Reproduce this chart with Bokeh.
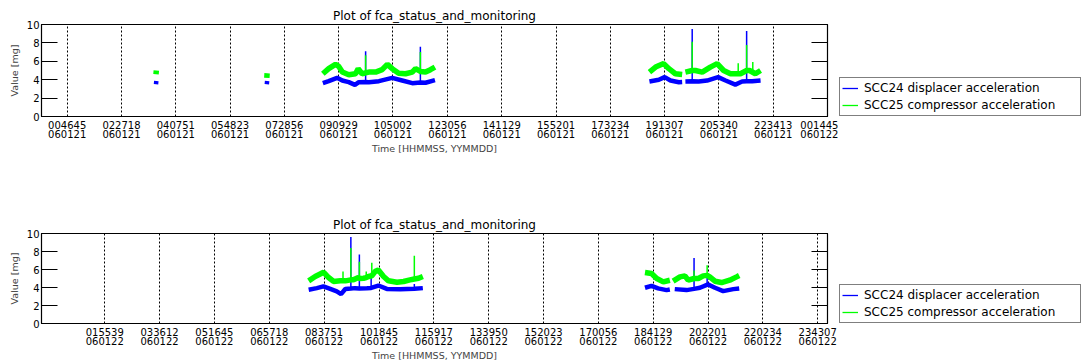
import numpy as np
from bokeh.plotting import figure
from bokeh.models import Range1d, FixedTicker, LinearAxis, Legend, LegendItem
from bokeh.layouts import column, row
from bokeh.embed import file_html
from bokeh.resources import INLINE

NaN = float("nan")

TITLE = "Plot of fca_status_and_monitoring"
X_LABEL = "Time [HHMMSS, YYMMDD]"
Y_LABEL = "Value [mg]"
SERIES = ["SCC24 displacer acceleration", "SCC25 compressor acceleration"]
BLUE = "#0000ff"
GREEN = "#00ff00"
FONT = "DejaVu Sans"

y_ticks = [0, 2, 4, 6, 8, 10]

# ---- top panel (hours since 00:00 of 060121) ----
top_tick_times = ["004645", "022718", "040751", "054823", "072856", "090929", "105002",
                  "123056", "141129", "155201", "173234", "191307", "205340", "223413", "001445"]
top_tick_dates = ["060121"] * 14 + ["060122"]

top_scc24_hours = [3.52, 3.53, NaN, 6.94, 6.95, NaN,
                   8.67, 8.85, 9.11, 9.27, 9.47, 9.66, 9.78, 9.99, 10.09, 10.40, 10.81, 11.12, 11.43, 11.68, 11.84, 12.13, NaN,
                   18.75, 19.04, 19.22, 19.40, 19.66, 19.76, NaN,
                   19.86, 20.07, 20.27, 20.53, 20.87, 21.10, 21.40, 21.61, 21.75, 21.92, 22.18]
top_scc24 = [3.5, 3.85, NaN, 3.5, 3.85, NaN,
             3.62, 3.84, 4.2, 3.91, 3.73, 3.44, 3.73, 3.75, 3.73, 3.84, 4.2, 3.91, 3.62, 3.7, 3.67, 3.95, NaN,
             3.8, 3.99, 4.28, 3.91, 3.73, 3.75, NaN,
             3.8, 3.82, 3.8, 3.91, 4.28, 3.91, 3.47, 3.8, 3.82, 3.84, 3.91]
top_scc24_spike_hours = [9.99, 11.68, 20.07, 21.75]
top_scc24_spike_base = [3.75, 3.7, 3.82, 3.82]
top_scc24_spike_peak = [7.1, 7.57, 9.52, 9.3]

top_scc25_hours = [3.52, 3.53, NaN, 6.94, 6.95, NaN,
                   8.67, 8.85, 9.06, 9.16, 9.27, 9.47, 9.68, 9.76, 9.88, 9.99, 10.09, 10.30, 10.50, 10.66, 10.81,
                   11.01, 11.22, 11.43, 11.53, 11.68, 11.84, 11.99, 12.13, NaN,
                   18.75, 18.94, 19.19, 19.35, 19.55, 19.76, NaN,
                   19.86, 20.07, 20.17, 20.38, 20.63, 20.84, 21.04, 21.25, 21.40, 21.56, 21.75, 21.84, 22.02, 22.18]
top_scc25 = [4.6, 5.0, NaN, 4.2, 4.7, NaN,
             4.65, 5.2, 5.67, 5.45, 4.83, 4.54, 4.65, 5.2, 4.65, 4.75, 4.83, 4.83, 5.09, 5.67, 5.2,
             4.71, 4.65, 4.83, 5.2, 4.9, 4.83, 5.09, 5.37, NaN,
             4.83, 5.37, 5.75, 5.2, 4.65, 4.57, NaN,
             4.83, 5.0, 5.0, 4.83, 5.37, 5.75, 5.0, 4.65, 4.65, 4.65, 5.0, 5.0, 4.65, 5.0]
top_scc25_spike_hours = [9.99, 11.68, 20.07, 21.75, 21.49, 21.94]
top_scc25_spike_base = [4.75, 4.9, 5.0, 5.0, 4.65, 4.8]
top_scc25_spike_peak = [6.66, 7.0, 8.12, 7.76, 5.8, 5.92]

# ---- bottom panel (hours since 00:00 of 060122) ----
bot_tick_times = ["015539", "033612", "051645", "065718", "083751", "101845", "115917",
                  "133950", "152023", "170056", "184129", "202201", "220234", "234307"]
bot_tick_dates = ["060122"] * 14

bot_scc24_hours = [8.16, 8.41, 8.61, 8.82, 9.02, 9.15, 9.28, 9.45, 9.58, 9.71, 9.94, 10.07, 10.29, 10.55, 10.96, 11.39, 11.65, NaN,
                   18.44, 18.64, 18.84, 19.10, 19.20, NaN,
                   19.35, 19.71, 19.94, 20.12, 20.37, 20.58, 20.83, 21.14, 21.32]
bot_scc24 = [3.75, 3.93, 4.12, 3.84, 3.57, 3.27, 3.84, 3.88, 3.93, 3.9, 3.93, 3.95, 4.22, 3.84, 3.8, 3.85, 3.93, NaN,
             3.97, 4.19, 3.9, 3.71, 3.78, NaN,
             3.82, 3.71, 3.85, 3.97, 4.34, 3.97, 3.6, 3.82, 3.9]
bot_scc24_spike_hours = [9.45, 9.71, 10.07, 11.39, 19.94, 20.34]
bot_scc24_spike_base = [3.88, 3.9, 3.95, 3.85, 3.85, 4.2]
bot_scc24_spike_peak = [9.6, 7.67, 5.2, 4.4, 7.27, 5.2]

bot_scc25_hours = [8.16, 8.36, 8.62, 8.77, 8.92, 9.13, 9.21, 9.28, 9.45, 9.53, 9.68, 9.71, 9.84, 9.92, 9.99, 10.09,
                   10.19, 10.29, 10.45, 10.60, 10.86, 11.06, 11.26, 11.39, 11.52, 11.65, NaN,
                   18.44, 18.64, 18.80, 19.00, 19.20, NaN,
                   19.30, 19.51, 19.66, 19.76, 19.94, 20.07, 20.22, 20.34, 20.42, 20.58, 20.78, 21.03, 21.24, 21.32]
bot_scc25 = [4.74, 5.22, 5.69, 5.11, 4.67, 4.74, 4.74, 4.74, 4.85, 4.85, 5.11, 5.0, 5.03, 5.1, 5.22, 5.3,
             5.77, 5.95, 5.22, 4.74, 4.59, 4.67, 4.85, 4.95, 5.03, 5.22, NaN,
             5.66, 5.55, 5.0, 4.63, 4.81, NaN,
             4.7, 5.18, 5.29, 4.81, 5.0, 5.0, 5.29, 5.35, 5.18, 4.7, 4.55, 4.81, 5.18, 5.33]
bot_scc25_spike_hours = [9.21, 9.45, 9.71, 9.92, 10.09, 11.39, 19.94, 20.34]
bot_scc25_spike_base = [4.74, 4.85, 5.0, 5.1, 5.3, 4.95, 5.0, 5.35]
bot_scc25_spike_peak = [5.77, 8.4, 6.87, 5.77, 6.76, 7.53, 5.9, 6.46]

PAGE_W = 1081
MAIN_W = 838
LEG_W = PAGE_W - MAIN_W
BORDER_L = 41
BORDER_R = 11


def tick_hours(times, dates):
    out = []
    first_date = dates[0]
    for t, d in zip(times, dates):
        h = int(t[:2]) + int(t[2:4]) / 60.0 + int(t[4:]) / 3600.0
        if d != first_date:
            h += 24.0
        out.append(round(h, 6))
    return out


def make_panel(height, x_start, x_end, border_top, border_bottom, times, dates,
               b_x, b_y, b_sx, b_sb, b_sp, g_x, g_y, g_sx, g_sb, g_sp):
    p = figure(width=MAIN_W, height=height, x_range=Range1d(x_start, x_end), y_range=Range1d(0, 10),
               output_backend="svg", toolbar_location=None,
               min_border_left=BORDER_L, min_border_right=BORDER_R,
               min_border_top=border_top, min_border_bottom=border_bottom)
    p.background_fill_color = "white"
    p.border_fill_color = "white"
    p.outline_line_color = "black"
    p.outline_line_width = 1.2

    p.title.text = TITLE
    p.title.align = "center"
    p.title.text_font = FONT
    p.title.text_font_size = "12px"
    p.title.text_font_style = "normal"
    p.title.text_color = "black"
    p.title.standoff = 4

    ticks = tick_hours(times, dates)
    xt = FixedTicker(ticks=ticks)
    xa = p.xaxis[0]
    xa.ticker = xt
    xa.major_label_overrides = {tk: f"{t}\n{d}" for tk, t, d in zip(ticks, times, dates)}
    xa.major_tick_in = 0
    xa.major_tick_out = 0
    xa.minor_tick_in = 0
    xa.minor_tick_out = 0
    xa.major_label_standoff = 3
    xa.major_label_text_font = FONT
    xa.major_label_text_font_size = "10px"
    xa.major_label_text_color = "black"
    xa.major_label_text_line_height = 0.85
    xa.axis_label = X_LABEL
    xa.axis_label_text_font = FONT
    xa.axis_label_text_font_size = "9.5px"
    xa.axis_label_text_font_style = "normal"
    xa.axis_label_standoff = 0
    xa.axis_line_color = "black"

    ya = p.yaxis[0]
    ya.ticker = FixedTicker(ticks=y_ticks)
    ya.major_tick_in = 16
    ya.major_tick_out = 0
    ya.major_tick_line_width = 1.2
    ya.minor_tick_in = 0
    ya.minor_tick_out = 0
    ya.major_label_standoff = 2
    ya.major_label_text_font = FONT
    ya.major_label_text_font_size = "10px"
    ya.major_label_text_color = "black"
    ya.axis_label = Y_LABEL
    ya.axis_label_text_font = FONT
    ya.axis_label_text_font_size = "9.5px"
    ya.axis_label_text_font_style = "normal"
    ya.axis_label_standoff = 4
    ya.axis_line_color = "black"

    ra = LinearAxis(ticker=FixedTicker(ticks=y_ticks), major_label_text_alpha=0,
                    major_label_text_font_size="1px",
                    major_tick_in=16, major_tick_out=0, minor_tick_in=0, minor_tick_out=0,
                    major_label_standoff=0, major_tick_line_width=1.2, axis_line_color="black")
    p.add_layout(ra, "right")

    p.xgrid.ticker = xt
    p.xgrid.grid_line_color = "black"
    p.xgrid.grid_line_dash = "2 2"
    p.xgrid.grid_line_width = 1
    p.ygrid.visible = False

    bx = np.array(b_x, dtype=float)
    by = np.array(b_y, dtype=float)
    gx = np.array(g_x, dtype=float)
    gy = np.array(g_y, dtype=float)

    p.line(bx, by, line_color=BLUE, line_width=4.5)
    p.segment(x0=b_sx, y0=b_sb, x1=b_sx, y1=b_sp, line_color=BLUE, line_width=1.5)
    p.line(gx, gy, line_color=GREEN, line_width=5.5)
    p.segment(x0=g_sx, y0=g_sb, x1=g_sx, y1=g_sp, line_color=GREEN, line_width=1.5)

    # legend lives in its own narrow figure to the right of the plot (frames are aligned by the row)
    lf = figure(width=LEG_W, height=height, x_range=Range1d(0, 1), y_range=Range1d(0, 1),
                x_axis_type=None, y_axis_type=None, output_backend="svg", toolbar_location=None,
                min_border=0, min_border_left=0, min_border_right=0, min_border_top=0, min_border_bottom=0)
    lf.outline_line_color = None
    lf.background_fill_color = "white"
    lf.border_fill_color = "white"
    lb = lf.segment(x0=[5], y0=[5], x1=[6], y1=[5], line_color=BLUE, line_width=1.3)
    lg = lf.segment(x0=[5], y0=[5], x1=[6], y1=[5], line_color=GREEN, line_width=1.3)
    legend = Legend(items=[LegendItem(label=SERIES[0], renderers=[lb]),
                           LegendItem(label=SERIES[1], renderers=[lg])],
                    location=(1, 0), margin=0, padding=2, spacing=1,
                    glyph_width=16, glyph_height=16, label_height=16, label_width=214,
                    label_standoff=6, border_line_color="black", border_line_width=1.2,
                    background_fill_color="white", background_fill_alpha=1,
                    label_text_font=FONT, label_text_font_size="12px", label_text_color="black")
    lf.add_layout(legend, "center")
    return row(p, lf, spacing=0)


top = make_panel(200, -0.014, 24.246, 24, 84, top_tick_times, top_tick_dates,
                 top_scc24_hours, top_scc24, top_scc24_spike_hours, top_scc24_spike_base, top_scc24_spike_peak,
                 top_scc25_hours, top_scc25, top_scc25_spike_hours, top_scc25_spike_base, top_scc25_spike_peak)
bot = make_panel(163, -0.006, 24.019, 33, 39, bot_tick_times, bot_tick_dates,
                 bot_scc24_hours, bot_scc24, bot_scc24_spike_hours, bot_scc24_spike_base, bot_scc24_spike_peak,
                 bot_scc25_hours, bot_scc25, bot_scc25_spike_hours, bot_scc25_spike_base, bot_scc25_spike_peak)

layout = column(top, bot, spacing=0)
open("out.html", "w").write(file_html(layout, INLINE))
